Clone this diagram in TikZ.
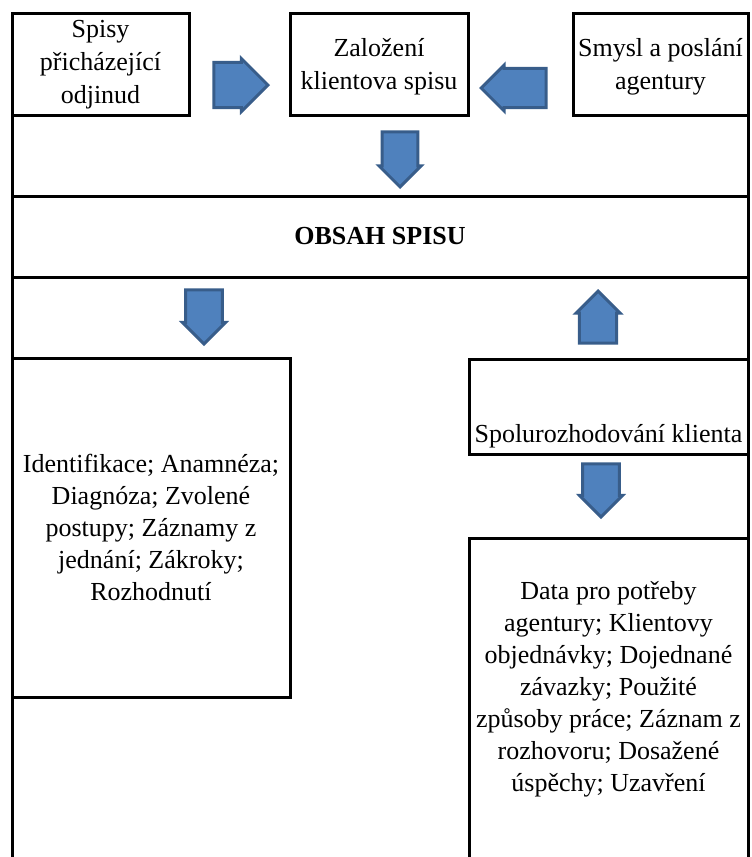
\documentclass[tikz,border=0pt]{standalone}
\usepackage{fontspec}
\setmainfont{Liberation Serif}
\usetikzlibrary{shapes.arrows,positioning}
\definecolor{sipkafill}{HTML}{4F81BD}
\definecolor{sipkadraw}{HTML}{385D8A}

\begin{document}
\begin{tikzpicture}
        [x=1pt,y=-1pt,
          boxdecorate/.style={draw,line width=3pt,inner sep=0pt,align=center,%
            font=\fontsize{26}{32}\selectfont},%
          textdecorate/.style={align=center,inner sep=0pt,font=\fontsize{26}{33}\selectfont},%
          arrowdecorate/.style={single arrow,draw=sipkadraw,fill=sipkafill,line width=3pt,%
            inner xsep=0pt,inner ysep=10pt,single arrow head extend=2pt,anchor=tip}]
        \useasboundingbox (0,0) rectangle (752,857);
        %% outer frame
        \draw[line width=3pt] (12,115) -- (12,862);
        \draw[line width=3pt] (748,115) -- (748,862);
        %% top boxes
        \node (spisy) at (100.5,64) [boxdecorate,minimum width=177,minimum height=102] {};
        \node (zalozeni) at (379,64) [boxdecorate,minimum width=178,minimum height=102] {};
        \node (smysl) at (660.5,64) [boxdecorate,minimum width=175,minimum height=102] {};
        \node (spisytext) at (100.5,65) [textdecorate] {Spisy\\přicházející\\odjinud};
        \node (zalozenitext) at (379,67) [textdecorate] {Založení\\klientova spisu};
        \node (smysltext) at (660.5,67) [textdecorate] {Smysl a poslání\\agentury};
        %% middle band and lower boxes
        \node (obsah) at (380,236.5) [boxdecorate,minimum width=736,minimum height=81,
          font=\fontsize{26}{32}\selectfont\bfseries] {OBSAH SPISU};
        \node (zaznamy) at (151,527.5) [boxdecorate,minimum width=278,minimum height=339]
          {Identifikace; Anamnéza;\\Diagnóza; Zvolené\\postupy; Záznamy z\\jednání; Zákroky;\\Rozhodnutí};
        \node (spolu) at (608.5,406.5) [boxdecorate,minimum width=279,minimum height=95] {};
        \node (spolutext) [textdecorate,above=7pt of spolu.south] {Spolurozhodování klienta};
        \node (data) at (608.5,700) [boxdecorate,minimum width=279,minimum height=324] {};
        \node (datatext) at (608.5,689) [textdecorate,font=\fontsize{26}{32}\selectfont]
          {Data pro potřeby\\agentury; Klientovy\\objednávky; Dojednané\\závazky; Použité\\způsoby práce; Záznam z\\rozhovoru; Dosažené\\úspěchy; Uzavření};
        %% block arrows (placed at their tips)
        \foreach \nazev/\x/\y/\uhel/\delka/\hlava in {pravo/270/85/0/54/53,
          vlevo/479/88/180/65/46, dolu/400/189/270/55/42, kzaznamum/204/346/270/54/43,
          zespolu/598/289/90/52/44, kdatum/601/519/270/53/43}
        {
          \node (\nazev) at (\x,\y) [arrowdecorate,rotate=\uhel,minimum height=\delka,
            minimum width=\hlava] {};
        }
\end{tikzpicture}
\end{document}
